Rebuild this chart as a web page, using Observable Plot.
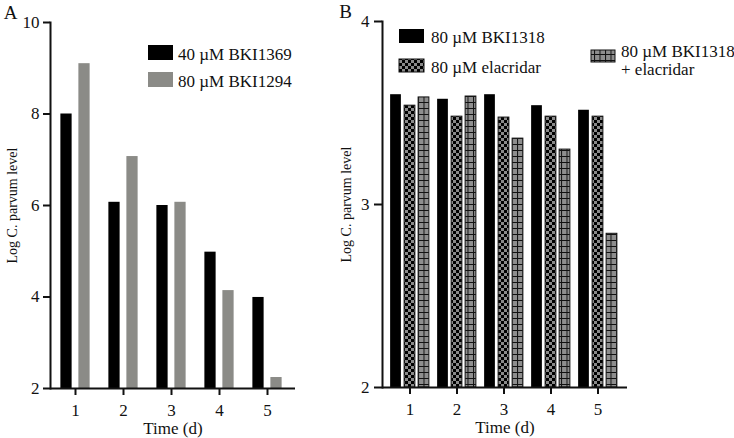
<!DOCTYPE html>
<html>
<head>
<meta charset="utf-8">
<script src="https://cdn.jsdelivr.net/npm/d3@7"></script>
<script src="https://cdn.jsdelivr.net/npm/@observablehq/plot@0.6"></script>
<style>
  html, body { margin: 0; padding: 0; background: #fff; overflow: hidden; }
  #wrap { position: relative; width: 734px; height: 438px; font-family: "Liberation Serif", "DejaVu Serif", serif; }
  #wrap > svg { position: absolute; left: 0; top: 0; max-width: none; }
  #wrap svg text { font-family: "Liberation Serif", "DejaVu Serif", serif; }
</style>
</head>
<body>
<svg width="0" height="0" style="position:absolute">
  <defs>
    <pattern id="checker" patternUnits="userSpaceOnUse" width="6" height="6">
      <rect width="6" height="6" fill="#8a8a8a"></rect>
      <rect x="0" y="0" width="3" height="3" fill="#000"></rect>
      <rect x="3" y="3" width="3" height="3" fill="#000"></rect>
    </pattern>
    <pattern id="grid" patternUnits="userSpaceOnUse" width="5.5" height="6">
      <rect width="5.5" height="6" fill="#8e8e8e"></rect>
      <path d="M0,0.5H5.5M0.5,0V6" stroke="#111" stroke-width="1" fill="none"></path>
    </pattern>
  </defs>
</svg>
<div id="wrap"></div>
<script>
// ---------- data ----------
const days = [1, 2, 3, 4, 5];

// Panel A
const seriesA = ["40 µM BKI1369", "80 µM BKI1294"];
const valuesBKI1369 = [8.0, 6.07, 6.0, 4.98, 3.99];
const valuesBKI1294 = [9.1, 7.07, 6.07, 4.14, 2.24];
const yTicksA = [2, 4, 6, 8, 10];

// Panel B
const seriesB = ["80 µM BKI1318", "80 µM elacridar", "80 µM BKI1318 + elacridar"];
const valuesBKI1318 = [3.60, 3.575, 3.60, 3.54, 3.515];
const valuesElacridar = [3.54, 3.48, 3.475, 3.48, 3.48];
const valuesCombo = [3.585, 3.59, 3.36, 3.30, 2.84];
const yTicksB = [2, 3, 4];

const xTitle = "Time (d)";
const yTitle = "Log C. parvum level";

// ---------- helpers ----------
const FONT = "'Liberation Serif', 'DejaVu Serif', serif";
const INK = "#111";

function rows(vals) { return days.map((d, i) => ({day: d, value: vals[i]})); }

function insets(i, n, bw, barW, gap) {
  const total = n * barW + (n - 1) * gap;
  const left = (bw - total) / 2 + i * (barW + gap);
  return {insetLeft: left, insetRight: bw - left - barW};
}

function italicize(svg) {
  svg.querySelectorAll('g[aria-label="ytitle"] text').forEach(t => {
    const ns = "http://www.w3.org/2000/svg";
    t.textContent = "";
    const a = document.createElementNS(ns, "tspan"); a.textContent = "Log ";
    const b = document.createElementNS(ns, "tspan"); b.textContent = "C. parvum"; b.setAttribute("font-style", "italic");
    const c = document.createElementNS(ns, "tspan"); c.textContent = " level";
    t.append(a, b, c);
  });
}

const wrap = document.getElementById("wrap");

// ---------- Panel A ----------
const xRangeA = [49.6, 293.4];
const bwA = (xRangeA[1] - xRangeA[0]) / days.length;
const fillsA = ["#000", "#8b8b87"];
const valsA = [valuesBKI1369, valuesBKI1294];

const plotA = Plot.plot({
  width: 734, height: 438,
  marginLeft: 50, marginRight: 439, marginTop: 22, marginBottom: 50,
  style: {background: "transparent", fontFamily: FONT, fontSize: "17px", color: INK, overflow: "visible"},
  x: {type: "band", domain: days, range: xRangeA, padding: 0},
  y: {domain: [2, 10]},
  marks: [
    ...valsA.map((v, i) => Plot.barY(rows(v), {
      x: "day", y1: () => 2, y2: "value", fill: fillsA[i],
      ...insets(i, valsA.length, bwA, 12, 6)
    })),
    Plot.ruleY([2], {stroke: INK, strokeWidth: 2}),
    Plot.frame({anchor: "left", stroke: INK, strokeWidth: 2}),
    Plot.axisY({ticks: yTicksA, tickFormat: d => String(d), tickSize: 7, tickPadding: 4, label: null, strokeWidth: 2, fontSize: 17}),
    Plot.axisX({tickSize: 7, tickPadding: 8, label: null, strokeWidth: 2, fontSize: 17}),
    Plot.text([xTitle], {frameAnchor: "bottom", lineAnchor: "middle", dy: 40, fontSize: 17, fill: INK}),
    Plot.text([yTitle], {frameAnchor: "left", textAnchor: "middle", lineAnchor: "middle", rotate: -90, dx: -38, fontSize: 14, fill: INK, ariaLabel: "ytitle"}),
    Plot.text(["A"], {frameAnchor: "top-left", textAnchor: "middle", lineAnchor: "middle", dx: -40, dy: -10, fontSize: 19, fill: INK})
  ]
});
italicize(plotA);
wrap.append(plotA);

// ---------- Panel B ----------
const xRangeB = [385.4, 621.6];
const bwB = (xRangeB[1] - xRangeB[0]) / days.length;
const fillsB = ["#000", "url(#checker)", "url(#grid)"];
const valsB = [valuesBKI1318, valuesElacridar, valuesCombo];

const plotB = Plot.plot({
  width: 734, height: 438,
  marginLeft: 382, marginRight: 107, marginTop: 21, marginBottom: 51,
  style: {background: "transparent", fontFamily: FONT, fontSize: "17px", color: INK, overflow: "visible"},
  x: {type: "band", domain: days, range: xRangeB, padding: 0},
  y: {domain: [2, 4]},
  marks: [
    ...valsB.map((v, i) => Plot.barY(rows(v), {
      x: "day", y1: () => 2, y2: "value", fill: fillsB[i],
      stroke: i === 0 ? "none" : INK, strokeWidth: 1,
      ...insets(i, valsB.length, bwB, 11, 3)
    })),
    Plot.ruleY([2], {stroke: INK, strokeWidth: 2}),
    Plot.frame({anchor: "left", stroke: INK, strokeWidth: 2}),
    Plot.axisY({ticks: yTicksB, tickFormat: d => String(d), tickSize: 8, tickPadding: 5, label: null, strokeWidth: 2, fontSize: 17}),
    Plot.axisX({tickSize: 7, tickPadding: 8, label: null, strokeWidth: 2, fontSize: 17}),
    Plot.text([xTitle], {frameAnchor: "bottom", lineAnchor: "middle", dy: 40, fontSize: 17, fill: INK}),
    Plot.text([yTitle], {frameAnchor: "left", textAnchor: "middle", lineAnchor: "middle", rotate: -90, dx: -36, fontSize: 14, fill: INK, ariaLabel: "ytitle"}),
    Plot.text(["B"], {frameAnchor: "top-left", textAnchor: "middle", lineAnchor: "middle", dx: -37, dy: -10, fontSize: 19, fill: INK})
  ]
});
italicize(plotB);
wrap.append(plotB);

// ---------- Legends ----------
const leg = d3.select(wrap).append("svg")
  .attr("width", 734).attr("height", 438)
  .style("font-family", FONT).style("font-size", "17px");

const legendItems = [
  {sw: [148, 45, 25, 15], fill: fillsA[0], lines: [seriesA[0]], tx: 178, ty: 60},
  {sw: [148, 72, 25, 15], fill: fillsA[1], lines: [seriesA[1]], tx: 178, ty: 87},
  {sw: [399, 29, 25, 14], fill: fillsB[0], lines: [seriesB[0]], tx: 431, ty: 43},
  {sw: [399, 59, 25, 13], fill: fillsB[1], lines: [seriesB[1]], tx: 431, ty: 73},
  {sw: [591, 50, 24, 12], fill: fillsB[2], lines: ["80 µM BKI1318", "+ elacridar"], tx: 621, ty: 57}
];
legendItems.forEach(it => {
  leg.append("rect").attr("x", it.sw[0]).attr("y", it.sw[1]).attr("width", it.sw[2]).attr("height", it.sw[3])
    .attr("fill", it.fill).attr("stroke", it.fill === "#000" || it.fill === "#8b8b87" ? "none" : INK);
  const t = leg.append("text").attr("x", it.tx).attr("y", it.ty).attr("fill", INK);
  it.lines.forEach((l, j) => t.append("tspan").attr("x", it.tx).attr("dy", j === 0 ? 0 : 18).text(l));
});
</script>
</body>
</html>
